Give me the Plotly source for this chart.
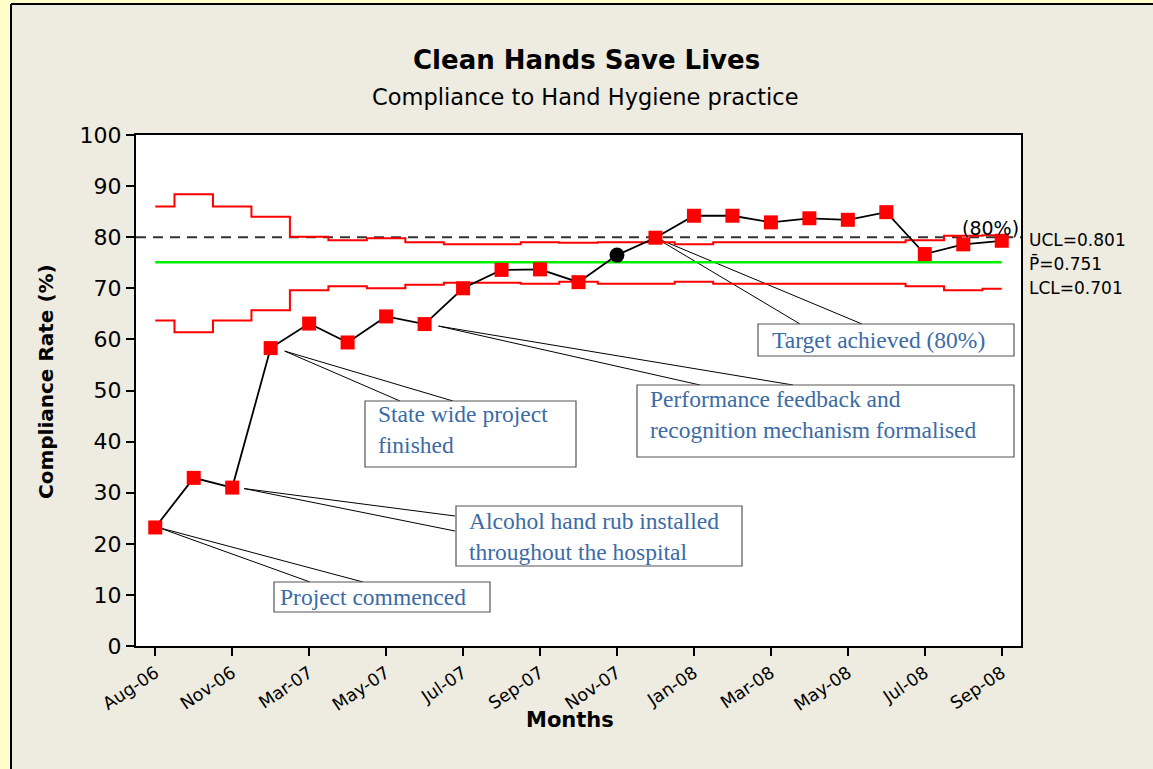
import plotly.graph_objects as go

# ---------------- data ----------------
months = ["Aug-06", "Nov-06", "Mar-07", "May-07", "Jul-07", "Sep-07",
          "Nov-07", "Jan-08", "Mar-08", "May-08", "Jul-08", "Sep-08"]
compliance = [23.2, 32.9, 31.0, 58.3, 63.1, 59.4, 64.5, 63.0, 70.0, 73.6, 73.7, 71.2,
              76.5, 79.9, 84.2, 84.2, 82.9, 83.7, 83.4, 84.9, 76.7, 78.6, 79.3]
ucl = [86.0, 88.4, 86.0, 84.0, 80.1, 79.4, 79.8, 79.0, 78.6, 78.6, 79.0, 78.9,
       79.0, 79.0, 78.6, 79.0, 79.0, 79.0, 79.0, 79.0, 79.4, 80.3, 80.4]
lcl = [63.7, 61.4, 63.7, 65.7, 69.6, 70.4, 70.0, 70.7, 71.1, 71.1, 70.9, 71.3,
       70.9, 70.9, 71.3, 70.9, 70.9, 70.9, 70.9, 70.9, 70.4, 69.6, 69.9]
center_line = 75.1
target = 80
limit_labels = ["UCL=0.801", "P\u0304=0.751", "LCL=0.701"]
special_point = 12  # Nov-07 shown as black circle

idx = list(range(len(compliance)))
tick_idx = idx[::2]

# ---------------- geometry helpers (pixel layout) ----------------
W, H = 1153, 769
L, R, T, B = 136, 1021, 135, 646
XR = (-0.5, 22.5)
YR = (0, 100)


def pxp(p):  # pixel x -> paper
    return (p - L) / (R - L)


def pyp(p):  # pixel y -> paper
    return (B - p) / (B - T)


def dx(p):  # pixel x -> data x
    return XR[0] + (p - L) / (R - L) * (XR[1] - XR[0])


def dy(p):  # pixel y -> data y
    return YR[0] + (B - p) / (B - T) * (YR[1] - YR[0])


XPX = (R - L) / (XR[1] - XR[0])
YPX = (B - T) / (YR[1] - YR[0])

fig = go.Figure()

# control limits (step lines)
fig.add_trace(go.Scatter(x=idx, y=ucl, mode="lines", line=dict(color="#FF0000", width=2, shape="hvh"),
                         hoverinfo="skip"))
fig.add_trace(go.Scatter(x=idx, y=lcl, mode="lines", line=dict(color="#FF0000", width=2, shape="hvh"),
                         hoverinfo="skip"))
fig.add_trace(go.Scatter(x=[idx[0], idx[-1]], y=[center_line, center_line], mode="lines",
                         line=dict(color="#00EE00", width=2.5), hoverinfo="skip"))

# target line
fig.add_shape(type="line", xref="paper", yref="y", x0=0, x1=1, y0=target, y1=target,
              line=dict(color="#333333", width=2, dash="10px,7px"), layer="below")

# data
symbols = ["circle" if i == special_point else "square" for i in idx]
colors = ["black" if i == special_point else "#FF0000" for i in idx]
sizes = [15 if i == special_point else 14 for i in idx]
fig.add_trace(go.Scatter(x=idx, y=compliance, mode="lines+markers",
                         line=dict(color="black", width=1.8),
                         marker=dict(symbol=symbols, color=colors, size=sizes, opacity=1,
                                     line=dict(width=0))))

# ---------------- callouts ----------------
note_color = "#3B6BA5"
callouts = [
    (0, (3, 0), [(310, 582), (363, 582)], (274, 582, 490, 612), (278, 597), "Project commenced"),
    (2, (12, 1), [(455, 516), (455, 531)], (456, 506, 742, 566), (467, 536),
     "Alcohol hand rub installed<br>throughout the hospital"),
    (3, (14, 3), [(400, 401), (453, 401)], (365, 401, 576, 467), (376, 429),
     "State wide project<br>finished"),
    (7, (14, 2), [(700, 385), (793, 385)], (637, 385, 1014, 457), (648, 414),
     "Performance feedback and<br>recognition mechanism formalised"),
    (13, (0, 0), [(800, 324), (862, 324)], (758, 324, 1014, 356), (770, 340),
     "Target achieved (80%)"),
]
for i, (ox, oy), ends, box, tpos, text in callouts:
    sx = idx[i] + ox / XPX
    sy = compliance[i] - oy / YPX
    for ex, ey in ends:
        fig.add_shape(type="line", xref="x", yref="y", x0=sx, y0=sy, x1=dx(ex), y1=dy(ey),
                      line=dict(color="black", width=1), layer="below")
    fig.add_shape(type="rect", xref="x", yref="y", x0=dx(box[0]), x1=dx(box[2]),
                  y0=dy(box[3]), y1=dy(box[1]), fillcolor="white",
                  line=dict(color="#555555", width=1.2), layer="above")
    fig.add_annotation(x=dx(tpos[0]), y=dy(tpos[1]), xref="x", yref="y", text=text,
                       showarrow=False, xanchor="left", yanchor="middle", align="left",
                       font=dict(family="Liberation Serif", size=23.5, color=note_color))

# ---------------- background frame ----------------
fig.add_shape(type="rect", xref="paper", yref="paper", x0=pxp(-5), x1=pxp(11), y0=pyp(780), y1=pyp(-5),
              fillcolor="#FFFFCC", line=dict(width=0), layer="above")
fig.add_shape(type="rect", xref="paper", yref="paper", x0=pxp(11), x1=pxp(1160), y0=pyp(4), y1=pyp(-5),
              fillcolor="#FFFFCC", line=dict(width=0), layer="above")
fig.add_shape(type="line", xref="paper", yref="paper", x0=pxp(11), x1=pxp(11), y0=pyp(4), y1=pyp(780),
              line=dict(color="black", width=2), layer="above")
fig.add_shape(type="line", xref="paper", yref="paper", x0=pxp(11), x1=pxp(1160), y0=pyp(4), y1=pyp(4),
              line=dict(color="black", width=2), layer="above")

# ---------------- texts ----------------
sans = "DejaVu Sans"
fig.add_annotation(xref="paper", yref="paper", x=pxp(586), y=pyp(60), text="<b>Clean Hands Save Lives</b>",
                   showarrow=False, xanchor="center", yanchor="middle",
                   font=dict(family=sans, size=26, color="black"))
fig.add_annotation(xref="paper", yref="paper", x=pxp(585), y=pyp(97), text="Compliance to Hand Hygiene practice",
                   showarrow=False, xanchor="center", yanchor="middle",
                   font=dict(family=sans, size=22.5, color="black"))
fig.add_annotation(xref="paper", yref="paper", x=pxp(46), y=pyp(382), text="<b>Compliance Rate (%)</b>",
                   textangle=-90, showarrow=False, xanchor="center", yanchor="middle",
                   font=dict(family=sans, size=20, color="black"))
fig.add_annotation(xref="paper", yref="paper", x=pxp(570), y=pyp(720), text="<b>Months</b>",
                   showarrow=False, xanchor="center", yanchor="middle",
                   font=dict(family=sans, size=21, color="black"))
fig.add_annotation(xref="paper", yref="paper", x=pxp(1021), y=pyp(228), text="(80%)",
                   showarrow=False, xanchor="right", yanchor="middle",
                   font=dict(family=sans, size=19, color="black"))
for lab, yc in zip(limit_labels, [240, 263, 288]):
    fig.add_annotation(xref="paper", yref="paper", x=pxp(1027), y=pyp(yc), text=lab,
                       showarrow=False, xanchor="left", yanchor="middle",
                       font=dict(family=sans, size=17, color="black"))

axis_common = dict(showgrid=False, zeroline=False, showline=True, linewidth=2, linecolor="black",
                   mirror=True, ticks="outside", ticklen=8, tickwidth=2, tickcolor="black")
fig.update_xaxes(range=list(XR), tickvals=tick_idx, ticktext=months, tickangle=-34,
                 tickfont=dict(family=sans, size=17.5, color="black"), **axis_common)
fig.update_yaxes(range=list(YR), dtick=10, tickfont=dict(family=sans, size=22, color="black"),
                 **axis_common)

fig.update_layout(width=W, height=H, autosize=False,
                  margin=dict(l=L, r=W - R, t=T, b=H - B, pad=0),
                  paper_bgcolor="#EEEBE0", plot_bgcolor="white",
                  showlegend=False, hovermode=False)

fig.write_html("out.html", config={"displayModeBar": False},
               post_script="document.body.style.margin='0';document.body.style.padding='0';"
                           "document.body.style.overflow='hidden';")
